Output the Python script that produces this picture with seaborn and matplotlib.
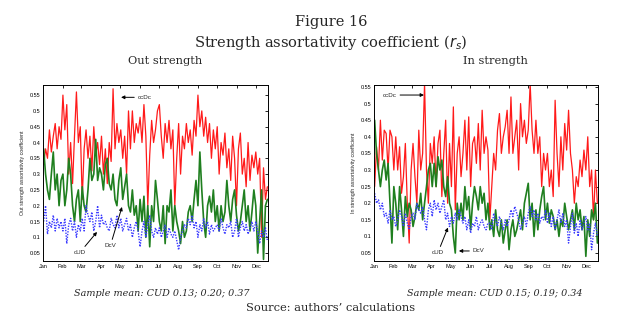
import matplotlib
matplotlib.use("Agg")
import matplotlib.pyplot as plt
import matplotlib.dates as mdates
import numpy as np
import pandas as pd
import seaborn as sns

# ---- daily coefficients, out strength (Jan .. Dec) ----
out_ccdc = [
    0.33, 0.38, 0.35, 0.44, 0.37, 0.42, 0.46, 0.38, 0.45, 0.41,
    0.55, 0.44, 0.52, 0.30, 0.40, 0.27, 0.42, 0.56, 0.40, 0.45,
    0.22, 0.38, 0.44, 0.35, 0.42, 0.31, 0.45, 0.36, 0.40, 0.33,
    0.42, 0.30, 0.38, 0.27, 0.40, 0.34, 0.57, 0.38, 0.46, 0.40,
    0.44, 0.35, 0.42, 0.30, 0.50, 0.38, 0.50, 0.40, 0.46, 0.43,
    0.48, 0.40, 0.52, 0.42, 0.20, 0.36, 0.47, 0.40, 0.44, 0.50,
    0.52, 0.42, 0.35, 0.46, 0.40, 0.47, 0.38, 0.44, 0.20, 0.35,
    0.46, 0.30, 0.42, 0.38, 0.46, 0.40, 0.44, 0.36, 0.47, 0.42,
    0.55, 0.45, 0.50, 0.42, 0.48, 0.40, 0.46, 0.35, 0.44, 0.38,
    0.45, 0.30, 0.40, 0.36, 0.43, 0.32, 0.38, 0.28, 0.42, 0.35,
    0.20, 0.38, 0.43, 0.30, 0.35, 0.26, 0.40, 0.28, 0.36, 0.32,
    0.37, 0.30, 0.35, 0.10, 0.32, 0.22, 0.26,
]
out_dcv = [
    0.38, 0.30, 0.25, 0.22, 0.30, 0.37, 0.25, 0.30, 0.20, 0.28,
    0.30, 0.20, 0.25, 0.35, 0.30, 0.20, 0.15, 0.22, 0.25, 0.15,
    0.26, 0.20, 0.18, 0.25, 0.35, 0.28, 0.30, 0.41, 0.28, 0.32,
    0.30, 0.25, 0.33, 0.35, 0.27, 0.25, 0.30, 0.22, 0.20, 0.28,
    0.32, 0.22, 0.26, 0.30, 0.20, 0.18, 0.25, 0.17, 0.20, 0.12,
    0.22, 0.15, 0.23, 0.10, 0.20, 0.07, 0.20, 0.15, 0.28, 0.22,
    0.15, 0.12, 0.20, 0.08, 0.20, 0.18, 0.25, 0.12, 0.20, 0.15,
    0.12, 0.08, 0.15, 0.10, 0.12, 0.18, 0.20, 0.15, 0.22, 0.28,
    0.20, 0.37, 0.25, 0.15, 0.10, 0.20, 0.23, 0.18, 0.25, 0.15,
    0.20, 0.12, 0.20, 0.15, 0.18, 0.28, 0.20, 0.15, 0.22, 0.25,
    0.17, 0.12, 0.15, 0.20, 0.25, 0.15, 0.20, 0.12, 0.18, 0.25,
    0.20, 0.05, 0.15, 0.25, 0.03, 0.20, 0.22,
]
out_cud = [
    0.15, 0.20, 0.11, 0.15, 0.13, 0.17, 0.12, 0.16, 0.13, 0.15,
    0.12, 0.16, 0.08, 0.14, 0.16, 0.12, 0.15, 0.10, 0.14, 0.12,
    0.16, 0.12, 0.20, 0.17, 0.15, 0.18, 0.12, 0.15, 0.20, 0.13,
    0.17, 0.14, 0.15, 0.13, 0.12, 0.16, 0.14, 0.13, 0.17, 0.13,
    0.16, 0.12, 0.14, 0.16, 0.12, 0.14, 0.10, 0.13, 0.15, 0.12,
    0.07, 0.12, 0.15, 0.10, 0.14, 0.17, 0.12, 0.10, 0.13, 0.11,
    0.13, 0.10, 0.12, 0.14, 0.10, 0.13, 0.11, 0.10, 0.12, 0.09,
    0.06, 0.10, 0.12, 0.14, 0.13, 0.16, 0.14, 0.17, 0.13, 0.15,
    0.10, 0.14, 0.12, 0.16, 0.13, 0.15, 0.11, 0.14, 0.12, 0.13,
    0.14, 0.12, 0.16, 0.13, 0.11, 0.14, 0.13, 0.15, 0.10, 0.12,
    0.16, 0.10, 0.13, 0.15, 0.12, 0.14, 0.11, 0.13, 0.15, 0.12,
    0.15, 0.12, 0.08, 0.12, 0.10, 0.13, 0.09,
]

# ---- daily coefficients, in strength (Jan .. Dec) ----
in_ccdc = [
    0.25, 0.37, 0.30, 0.45, 0.33, 0.42, 0.41, 0.30, 0.42, 0.40,
    0.30, 0.40, 0.30, 0.37, 0.23, 0.28, 0.38, 0.20, 0.08, 0.30,
    0.38, 0.28, 0.20, 0.42, 0.30, 0.35, 0.56, 0.30, 0.20, 0.38,
    0.32, 0.40, 0.25, 0.38, 0.42, 0.22, 0.35, 0.45, 0.20, 0.38,
    0.25, 0.49, 0.18, 0.35, 0.40, 0.28, 0.35, 0.45, 0.30, 0.46,
    0.25, 0.38, 0.40, 0.32, 0.44, 0.30, 0.48, 0.35, 0.40, 0.36,
    0.15, 0.25, 0.35, 0.30, 0.42, 0.47, 0.35, 0.40, 0.43, 0.48,
    0.35, 0.52, 0.35, 0.40, 0.45, 0.30, 0.50, 0.40, 0.45, 0.38,
    0.42, 0.56, 0.42, 0.35, 0.45, 0.35, 0.40, 0.25, 0.35, 0.30,
    0.35, 0.25, 0.30, 0.22, 0.51, 0.35, 0.25, 0.40, 0.30, 0.44,
    0.36, 0.48, 0.35, 0.30, 0.20, 0.28, 0.25, 0.33, 0.28, 0.36,
    0.30, 0.40, 0.25, 0.30, 0.15, 0.30, 0.20,
]
in_dcv = [
    0.45, 0.35, 0.30, 0.25, 0.30, 0.33, 0.27, 0.32, 0.20, 0.08,
    0.25, 0.20, 0.12, 0.25, 0.18, 0.10, 0.22, 0.16, 0.20, 0.18,
    0.13, 0.16, 0.20, 0.18, 0.23, 0.15, 0.20, 0.25, 0.30, 0.32,
    0.25, 0.32, 0.25, 0.34, 0.30, 0.33, 0.25, 0.22, 0.28, 0.20,
    0.18, 0.10, 0.05, 0.20, 0.15, 0.20, 0.15, 0.25, 0.18, 0.22,
    0.12, 0.20, 0.25, 0.22, 0.18, 0.25, 0.20, 0.23, 0.15, 0.20,
    0.12, 0.15, 0.10, 0.18, 0.12, 0.10, 0.15, 0.08, 0.12, 0.15,
    0.06, 0.12, 0.15, 0.10, 0.12, 0.15, 0.18, 0.12, 0.20, 0.23,
    0.26, 0.15, 0.20, 0.10, 0.18, 0.12, 0.18, 0.22, 0.25, 0.15,
    0.20, 0.14, 0.18, 0.16, 0.12, 0.15, 0.10, 0.15, 0.13, 0.20,
    0.16, 0.12, 0.15, 0.18, 0.12, 0.20, 0.15, 0.18, 0.12, 0.16,
    0.04, 0.15, 0.10, 0.18, 0.15, 0.20, 0.08,
]
in_cud = [
    0.23, 0.20, 0.21, 0.18, 0.20, 0.16, 0.17, 0.14, 0.18, 0.15,
    0.16, 0.13, 0.15, 0.18, 0.16, 0.13, 0.17, 0.14, 0.12, 0.16,
    0.17, 0.15, 0.20, 0.18, 0.17, 0.19, 0.15, 0.12, 0.18, 0.20,
    0.16, 0.21, 0.18, 0.20, 0.17, 0.19, 0.21, 0.15, 0.17, 0.13,
    0.16, 0.14, 0.17, 0.15, 0.18, 0.16, 0.14, 0.16, 0.12, 0.15,
    0.11, 0.14, 0.13, 0.16, 0.12, 0.14, 0.15, 0.13, 0.12, 0.14,
    0.14, 0.12, 0.17, 0.15, 0.13, 0.16, 0.14, 0.12, 0.15, 0.13,
    0.15, 0.18, 0.16, 0.19, 0.17, 0.15, 0.12, 0.14, 0.16, 0.13,
    0.17, 0.19, 0.16, 0.18, 0.15, 0.17, 0.14, 0.16, 0.15, 0.18,
    0.14, 0.17, 0.13, 0.16, 0.12, 0.15, 0.18, 0.14, 0.17, 0.13,
    0.15, 0.08, 0.13, 0.17, 0.11, 0.14, 0.10, 0.15, 0.12, 0.14,
    0.16, 0.12, 0.14, 0.06, 0.11, 0.14, 0.10,
]

panel_titles = ["Out strength", "In strength"]
ylabels = ["Out strength assortativity coefficient",
           "In strength assortativity coefficient"]
means_text = ["Sample mean: CUD 0.13; 0.20; 0.37",
              "Sample mean: CUD 0.15; 0.19; 0.34"]
ytick_vals = [0.05, 0.1, 0.15, 0.2, 0.25, 0.3, 0.35, 0.4, 0.45, 0.5, 0.55]
ylims = [(0.025, 0.582), (0.026, 0.556)]

START, END = "2008-01-02", "2008-12-19"
XMIN, XMAX = pd.Timestamp("2008-01-01"), pd.Timestamp("2008-12-20")

RED, GREEN, BLUE = "#ff1a1a", "#1f7f1f", "#3a3aff"

sns.set_style("white")
plt.rcParams["font.family"] = ["Liberation Sans", "DejaVu Sans"]

fig = plt.figure(figsize=(6.39, 3.22), dpi=100)
axes = [fig.add_axes([43 / 639, 1 - 261 / 322, 225 / 639, 176 / 322]),
        fig.add_axes([374 / 639, 1 - 261 / 322, 224 / 639, 176 / 322])]


def frame(values, name):
    return pd.DataFrame({
        "date": pd.date_range(START, END, periods=len(values)),
        "value": values,
        "series": name,
    })


panels = [(out_ccdc, out_dcv, out_cud), (in_ccdc, in_dcv, in_cud)]
for i, (ax, (cc, dv, cu)) in enumerate(zip(axes, panels)):
    sns.lineplot(data=frame(cc, "ccDc"), x="date", y="value", ax=ax,
                 color=RED, linewidth=0.9)
    sns.lineplot(data=frame(dv, "DcV"), x="date", y="value", ax=ax,
                 color=GREEN, linewidth=1.2)
    sns.lineplot(data=frame(cu, "cUD"), x="date", y="value", ax=ax,
                 color=BLUE, linewidth=1.0, linestyle=(0, (1, 1)))

    ax.set_xlim(XMIN, XMAX)
    ax.set_ylim(*ylims[i])
    ax.set_yticks(ytick_vals)
    ax.set_yticklabels([f"{v:g}" for v in ytick_vals])
    ax.xaxis.set_major_locator(mdates.MonthLocator())
    ax.xaxis.set_major_formatter(mdates.DateFormatter("%b"))
    ax.tick_params(direction="in", top=True, right=True, length=2.5,
                   width=0.6, labelsize=4, pad=2, colors="black")
    ax.set_xlabel("")
    ax.set_ylabel(ylabels[i], fontsize=3.8, labelpad=3)
    for sp in ax.spines.values():
        sp.set_color("black")
        sp.set_linewidth(0.7)

arrow = dict(arrowstyle="-|>", color="black", lw=0.7, mutation_scale=5,
             shrinkA=0, shrinkB=0)
ann_kw = dict(xycoords="axes fraction", textcoords="axes fraction",
              fontsize=4.5, va="center", arrowprops=arrow)

# Out strength labels
axes[0].annotate("ccDc", xy=(0.347, 0.93), xytext=(0.42, 0.93), ha="left", **ann_kw)
axes[0].annotate("DcV", xy=(0.351, 0.307), xytext=(0.30, 0.09), ha="center", **ann_kw)
axes[0].annotate("cUD", xy=(0.24, 0.165), xytext=(0.165, 0.05), ha="center", **ann_kw)
# In strength labels
axes[1].annotate("ccDc", xy=(0.223, 0.943), xytext=(0.04, 0.943), ha="left", **ann_kw)
axes[1].annotate("cUD", xy=(0.33, 0.19), xytext=(0.286, 0.05), ha="center", **ann_kw)
axes[1].annotate("DcV", xy=(0.379, 0.057), xytext=(0.44, 0.057), ha="left", **ann_kw)

serif = ["DejaVu Serif"]
fig.text(331 / 639, 1 - 22 / 322, "Figure 16", ha="center", va="center",
         fontsize=10.5, family=serif)
fig.text(331 / 639, 1 - 42 / 322, r"Strength assortativity coefficient ($r_s$)",
         ha="center", va="center", fontsize=10.5, family=serif)
fig.text(165 / 639, 1 - 61 / 322, panel_titles[0], ha="center", va="center",
         fontsize=8.2, family=serif)
fig.text(495 / 639, 1 - 61 / 322, panel_titles[1], ha="center", va="center",
         fontsize=8.2, family=serif)
fig.text(162 / 639, 1 - 294 / 322, means_text[0], ha="center", va="center",
         fontsize=6.9, family=serif, style="italic")
fig.text(495 / 639, 1 - 294 / 322, means_text[1], ha="center", va="center",
         fontsize=6.9, family=serif, style="italic")
fig.text(331 / 639, 1 - 308 / 322, "Source: authors\u2019 calculations",
         ha="center", va="center", fontsize=8.2, family=serif)

fig.savefig("out.png", dpi=100, facecolor="white")
